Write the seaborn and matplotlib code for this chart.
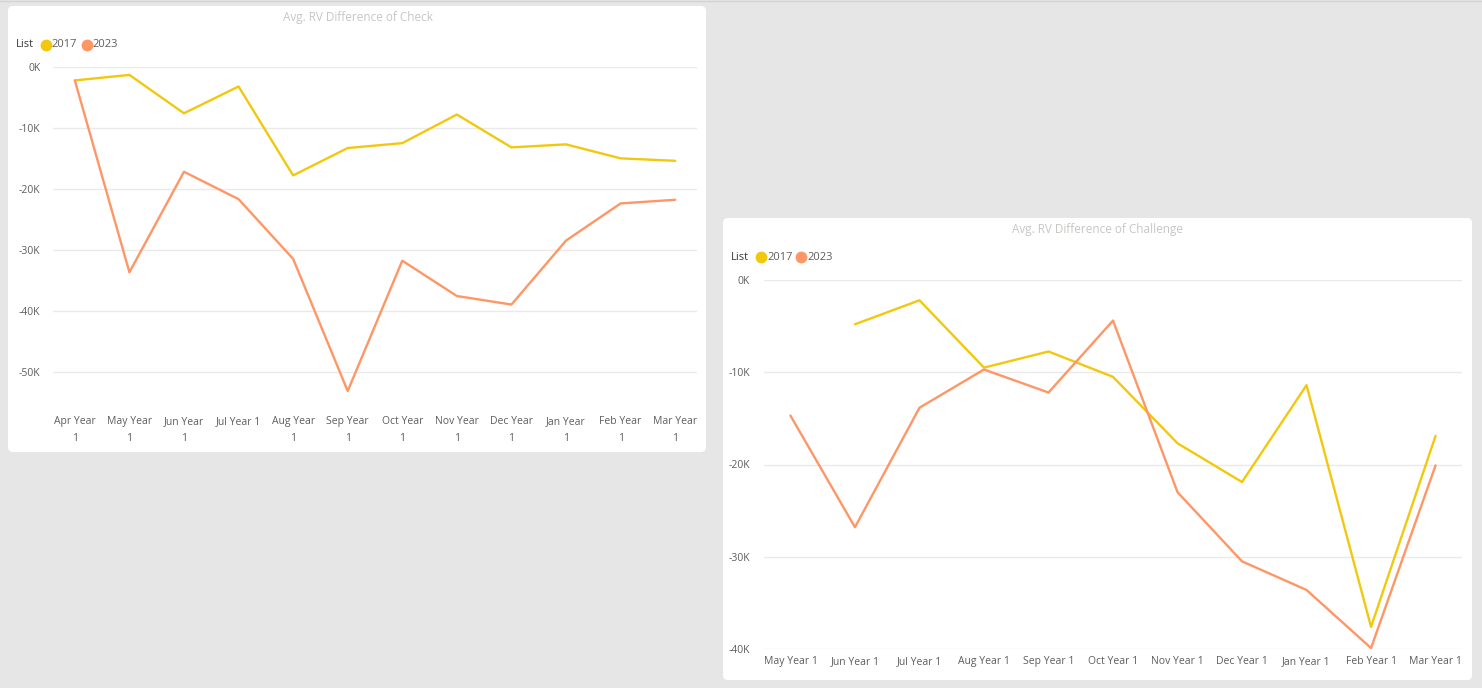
import numpy as np
import pandas as pd
import matplotlib
matplotlib.use("Agg")
import matplotlib.pyplot as plt
import seaborn as sns
from matplotlib.patches import FancyBboxPatch
from matplotlib.lines import Line2D
from matplotlib.ticker import FuncFormatter

# -----------------------------------------------------
# DATA
# -----------------------------------------------------
check_months = ["Apr Year 1", "May Year 1", "Jun Year 1", "Jul Year 1",
                "Aug Year 1", "Sep Year 1", "Oct Year 1", "Nov Year 1",
                "Dec Year 1", "Jan Year 1", "Feb Year 1", "Mar Year 1"]
check_ticklabels = ["Apr Year\n1", "May Year\n1", "Jun Year\n1", "Jul Year 1\n",
                    "Aug Year\n1", "Sep Year\n1", "Oct Year\n1", "Nov Year\n1",
                    "Dec Year\n1", "Jan Year\n1", "Feb Year\n1", "Mar Year\n1"]
check_2017 = [-2200, -1300, -7600, -3200, -17800, -13300,
              -12500, -7800, -13200, -12700, -15000, -15400]
check_2023 = [-2200, -33700, -17200, -21700, -31500, -53200,
              -31800, -37600, -39000, -28500, -22400, -21800]

challenge_months = ["May Year 1", "Jun Year 1", "Jul Year 1", "Aug Year 1",
                    "Sep Year 1", "Oct Year 1", "Nov Year 1", "Dec Year 1",
                    "Jan Year 1", "Feb Year 1", "Mar Year 1"]
challenge_2017 = [np.nan, -4800, -2200, -9500, -7750, -10500,
                  -17700, -21900, -11400, -37600, -16900]
challenge_2023 = [-14700, -26800, -13850, -9700, -12200, -4400,
                  -23000, -30500, -33600, -39900, -20100]

years = ["2017", "2023"]
colors = {"2017": "#F2C80F", "2023": "#FE9666"}

check_ticks = [0, -10000, -20000, -30000, -40000, -50000]
challenge_ticks = [0, -10000, -20000, -30000, -40000]


def long_frame(months, s2017, s2023):
    rows = []
    for year, vals in zip(years, [s2017, s2023]):
        for i, (m, v) in enumerate(zip(months, vals)):
            rows.append({"pos": i, "Month": m, "List": year, "Value": v})
    return pd.DataFrame(rows).dropna()


df_check = long_frame(check_months, check_2017, check_2023)
df_challenge = long_frame(challenge_months, challenge_2017, challenge_2023)

# -----------------------------------------------------
# FIGURE
# -----------------------------------------------------
W, H = 1482, 688
sns.set_theme(style="white")
plt.rcParams["font.family"] = ["Open Sans", "DejaVu Sans"]

fig = plt.figure(figsize=(W / 100, H / 100), dpi=100)
fig.patch.set_facecolor("#E6E6E6")


def px_box(x0, y0, x1, y1):
    # pixel box (top-left origin) -> figure fraction rect
    return [x0 / W, 1 - y1 / H, (x1 - x0) / W, (y1 - y0) / H]


# white cards
for (x0, y0, x1, y1) in [(8, 6, 706, 452), (723, 218, 1472, 680)]:
    card = FancyBboxPatch((x0, H - y1), x1 - x0, y1 - y0,
                          boxstyle="round,pad=0,rounding_size=5",
                          transform=None, facecolor="white",
                          edgecolor="none", zorder=0)
    fig.add_artist(card)

fig.add_artist(Line2D([0, 1], [1 - 0.5 / H, 1 - 0.5 / H],
                      transform=fig.transFigure, color="#D2D2D2", lw=1))

tick_color = "#605E5C"
tick_size = 7.5


def style_axes(ax, ticks, ylim):
    ax.set_facecolor("none")
    for s in ax.spines.values():
        s.set_visible(False)
    ax.set_ylim(*ylim)
    ax.set_yticks(ticks)
    ax.yaxis.set_major_formatter(FuncFormatter(lambda v, p: f"{v / 1000:.0f}K"))
    ax.grid(axis="y", color="#EAEAEA", linewidth=1)
    ax.grid(axis="x", visible=False)
    ax.set_axisbelow(True)
    ax.tick_params(length=0, labelsize=tick_size, labelcolor=tick_color)
    ax.set_xlabel("")
    ax.set_ylabel("")


# -----------------------------------------------------
# CHECK CHART
# -----------------------------------------------------
ax1 = fig.add_axes(px_box(53, 67, 697, 402))
sns.lineplot(data=df_check, x="pos", y="Value", hue="List", palette=colors,
             hue_order=years, sort=False, estimator=None, linewidth=1.7,
             legend=False, ax=ax1)
style_axes(ax1, check_ticks, (-55000, 0))
ax1.set_xlim(-0.4, len(check_months) - 0.6)
ax1.set_xticks(range(len(check_months)))
ax1.set_xticklabels(check_ticklabels, linespacing=1.75)
ax1.tick_params(axis="x", pad=10)
ax1.tick_params(axis="y", pad=9)

# -----------------------------------------------------
# CHALLENGE CHART
# -----------------------------------------------------
ax2 = fig.add_axes(px_box(764, 280, 1462, 649))
sns.lineplot(data=df_challenge, x="pos", y="Value", hue="List", palette=colors,
             hue_order=years, sort=False, estimator=None, linewidth=1.7,
             legend=False, ax=ax2)
style_axes(ax2, challenge_ticks, (-40000, 0))
ax2.set_xlim(-0.41, len(challenge_months) - 0.59)
ax2.set_xticks(range(len(challenge_months)))
ax2.set_xticklabels(challenge_months)
ax2.tick_params(axis="x", pad=5)
ax2.tick_params(axis="y", pad=10)

# -----------------------------------------------------
# TITLES AND LEGENDS
# -----------------------------------------------------
title_color = "#C8C6C4"
fig.text(358 / W, 1 - 17.5 / H, "Avg. RV Difference of Check",
         ha="center", va="center", fontsize=8.5, color=title_color)
fig.text(1098 / W, 1 - 230 / H, "Avg. RV Difference of Challenge",
         ha="center", va="center", fontsize=8.5, color=title_color)


def draw_legend(x_list, x_dots, x_texts, y):
    yf = 1 - y / H
    fig.text(x_list / W, yf, "List", ha="left", va="center",
             fontsize=8, color="#3B3A39")
    for year, xd, xt in zip(years, x_dots, x_texts):
        fig.add_artist(Line2D([xd / W], [yf], marker="o", markersize=7.5,
                              color=colors[year], transform=fig.transFigure,
                              linestyle="none"))
        fig.text(xt / W, yf, year, ha="left", va="center",
                 fontsize=8, color=tick_color)


draw_legend(16, [46, 87], [51.5, 92.5], 44.5)
draw_legend(731, [761, 801], [767, 807], 257)

fig.savefig("out.png", dpi=100, facecolor=fig.get_facecolor())
